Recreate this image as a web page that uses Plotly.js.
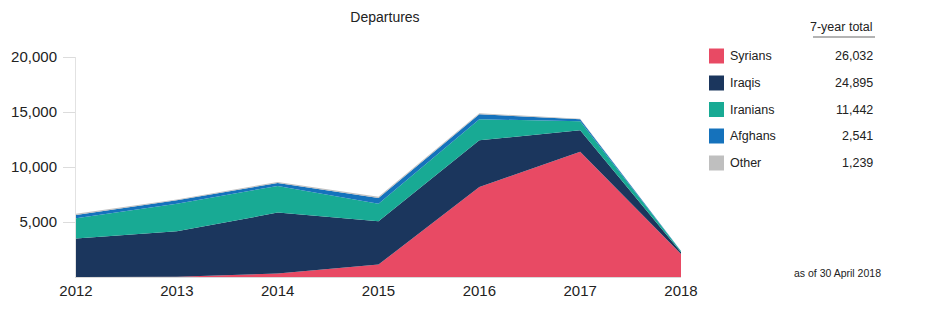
<!DOCTYPE html>
<html>
<head>
<meta charset="utf-8">
<script src="https://cdn.plot.ly/plotly-3.0.1.min.js"></script>
<style>
html,body{margin:0;padding:0;background:#fff;}
#chart{width:932px;height:328px;}
</style>
</head>
<body>
<div id="chart"></div>
<script>
const years = [2012, 2013, 2014, 2015, 2016, 2017, 2018];
const seriesNames = ["Syrians", "Iraqis", "Iranians", "Afghans", "Other"];
const syrians  = [0, 30, 310, 1130, 8190, 11380, 2100];
const iraqis   = [3490, 4120, 5545, 3930, 4236, 1960, 150];
const iranians = [1850, 2520, 2420, 1610, 1910, 820, 80];
const afghans  = [300, 300, 270, 515, 450, 180, 30];
const other    = [100, 80, 100, 100, 100, 50, 10];
const totals   = [26032, 24895, 11442, 2541, 1239];
const colors   = ["#E84A64", "#1B365D", "#18AA94", "#1572BC", "#BFBFBF"];
const yTicks   = [5000, 10000, 15000, 20000];

const values = [syrians, iraqis, iranians, afghans, other];
const FONT = "Liberation Sans, Arial, sans-serif";

const traces = values.map((v, i) => ({
  type: "scatter",
  x: years,
  y: v,
  name: seriesNames[i],
  stackgroup: "one",
  mode: "none",
  fillcolor: colors[i],
  hoverinfo: "x+y+name"
}));

// plot area in pixels
const L = 76, R = 251, T = 57, B = 51, W = 932, H = 328;
const pw = W - L - R, ph = H - T - B;
const px = x => (x - L) / pw;
const py = y => (H - B - y) / ph;

const annotations = [];
const shapes = [];
const rowY = [56, 83, 109.5, 136, 163];
seriesNames.forEach((n, i) => {
  shapes.push({
    type: "rect", xref: "paper", yref: "paper",
    x0: px(709), x1: px(724), y0: py(rowY[i] - 7.5), y1: py(rowY[i] + 7.5),
    fillcolor: colors[i], line: {width: 0}
  });
  annotations.push({
    xref: "paper", yref: "paper", x: px(728), y: py(rowY[i]),
    xanchor: "left", yanchor: "middle", showarrow: false,
    text: n, font: {family: FONT, size: 12.5, color: "#222"}
  });
  annotations.push({
    xref: "paper", yref: "paper", x: px(875), y: py(rowY[i]),
    xanchor: "right", yanchor: "middle", showarrow: false,
    text: totals[i].toLocaleString("en-US"), font: {family: FONT, size: 12.5, color: "#222"}
  });
});
annotations.push({
  xref: "paper", yref: "paper", x: px(875), y: py(27),
  xanchor: "right", yanchor: "middle", showarrow: false,
  text: "7-year total", font: {family: FONT, size: 12.5, color: "#222"}
});
shapes.push({
  type: "line", xref: "paper", yref: "paper",
  x0: px(813), x1: px(875), y0: py(37), y1: py(37),
  line: {color: "#9a9a9a", width: 1.5}
});
annotations.push({
  xref: "paper", yref: "paper", x: px(883), y: py(273),
  xanchor: "right", yanchor: "middle", showarrow: false,
  text: "as of 30 April 2018", font: {family: FONT, size: 10.5, color: "#222"}
});

const layout = {
  width: W, height: H,
  margin: {l: L, r: R, t: T, b: B, pad: 0},
  paper_bgcolor: "#fff", plot_bgcolor: "#fff",
  showlegend: false,
  font: {family: FONT, color: "#222"},
  title: {
    text: "Departures", font: {family: FONT, size: 14, color: "#222"},
    x: px(385), xref: "paper", xanchor: "center", y: 1 - 17 / H, yanchor: "middle"
  },
  xaxis: {
    range: [2012, 2018], tickvals: years, ticktext: years.map(String),
    showgrid: true, gridcolor: "rgba(255,255,255,0.6)", griddash: "dash", gridwidth: 1,
    layer: "above traces",
    showline: true, linecolor: "#d9d9d9", linewidth: 1,
    ticks: "", zeroline: false,
    tickfont: {family: FONT, size: 15, color: "#222"},
    fixedrange: true
  },
  yaxis: {
    range: [0, 20000], tickvals: yTicks, tickformat: ",d",
    showgrid: false, zeroline: false,
    showline: true, linecolor: "#e2e2e2", linewidth: 1,
    ticks: "outside", ticklen: 12, tickcolor: "#dcdcdc", tickwidth: 1,
    ticklabelstandoff: 3,
    tickfont: {family: FONT, size: 15, color: "#222"},
    fixedrange: true
  },
  shapes: shapes,
  annotations: annotations
};

Plotly.newPlot("chart", traces, layout, {displayModeBar: false, staticPlot: true});
</script>
</body>
</html>
